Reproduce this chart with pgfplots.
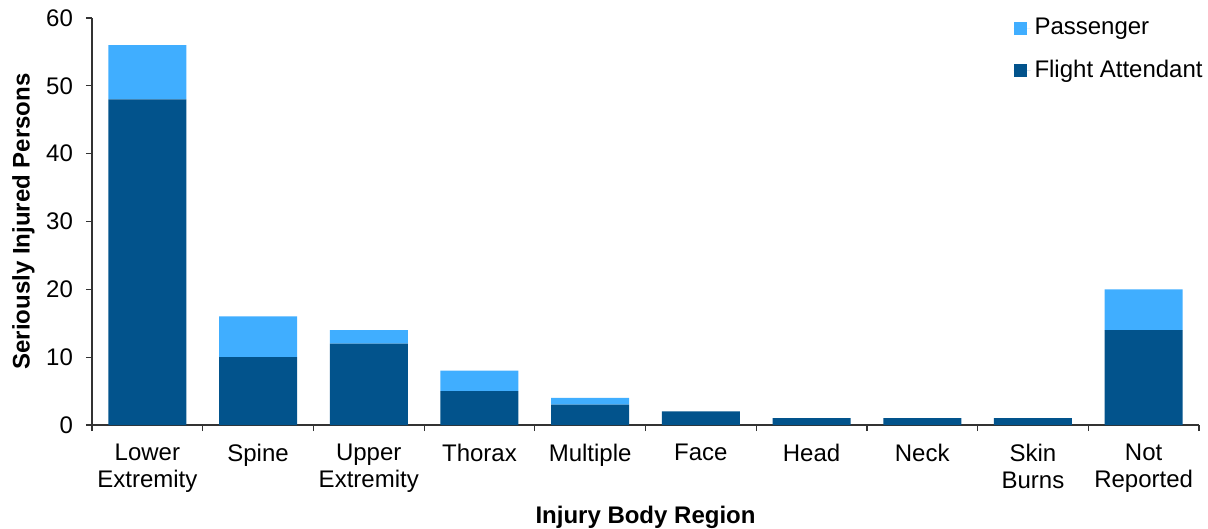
\documentclass[border=0pt]{standalone}
\usepackage{pgfplots}
\pgfplotsset{compat=1.18}
\usepackage{fontspec}
\setmainfont{Liberation Sans}
\definecolor{fa}{RGB}{2,83,140}
\definecolor{pa}{RGB}{64,174,255}
\begin{document}
\begin{tikzpicture}
\begin{axis}[
  scale only axis, width=553.5pt, height=203.5pt,
  ybar stacked, bar width=39pt,
  xmin=-0.5, xmax=9.5, ymin=0, ymax=60,
  ytick={0,10,...,60},
  xtick={0,...,9},
  xticklabels={{Lower\\Extremity},Spine,{Upper\\Extremity},Thorax,Multiple,Face,Head,Neck,{Skin\\Burns},{Not\\Reported}},
  major x tick style={draw=none},
  minor xtick={-0.5,0.5,...,9.5},
  minor tick length=3pt, major tick length=3pt,
  axis lines*=left,
  tick align=outside,
  axis line style={black!80, line width=0.6pt},
  tick style={black!80, line width=0.6pt},
  /pgf/number format/assume math mode=true,
  tick label style={font=\fontsize{12}{13.5}\selectfont},
  x tick label style={align=center, yshift=-3pt},
  y tick label style={xshift=-3pt},
  ylabel={\textbf{Seriously Injured Persons}},
  xlabel={\textbf{Injury Body Region}},
  label style={font=\fontsize{12}{13}\selectfont},
  xlabel style={yshift=0pt},
  ylabel style={yshift=-1pt},
  legend style={at={(1,1)}, xshift=4pt, yshift=2pt, anchor=north east, draw=none, fill=none,
    font=\fontsize{12}{13}\selectfont, row sep=7pt, inner sep=0pt,
    cells={anchor=west}},
  legend image code/.code={\fill[#1] (0pt,-3.25pt) rectangle (6.5pt,3.25pt);\path (0pt,0pt) -- (8.5pt,0pt);},
  reverse legend,
  clip=false,
]
\addplot[fill=fa, draw=none] coordinates {(0,48) (1,10) (2,12) (3,5) (4,3) (5,2) (6,1) (7,1) (8,1) (9,14)};
\addlegendentry{Flight Attendant}
\addplot[fill=pa, draw=none] coordinates {(0,8) (1,6) (2,2) (3,3) (4,1) (5,0) (6,0) (7,0) (8,0) (9,6)};
\addlegendentry{Passenger}
\coordinate (sw) at (rel axis cs:0,0);
\end{axis}
\pgfresetboundingbox
\path[use as bounding box] ([shift={(-46pt,-52pt)}]sw) rectangle ([shift={(558pt,212.5pt)}]sw);
\end{tikzpicture}
\end{document}
